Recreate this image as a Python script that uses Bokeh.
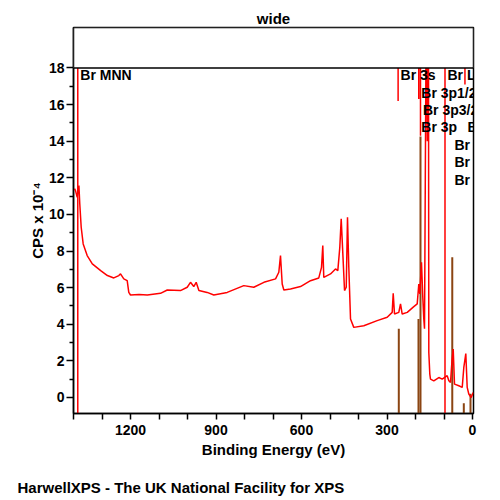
from bokeh.plotting import figure
from bokeh.models import Range1d, FixedTicker, BoxAnnotation, Title
from bokeh.core.properties import value
from bokeh.embed import file_html
from bokeh.resources import INLINE

FONT = "Liberation Sans"

# ---- data ----
spec_be = [1396.5, 1393, 1387, 1381, 1378, 1373, 1366, 1352, 1334, 1304.6, 1281, 1258.6,
           1241, 1235, 1223.5, 1211.6, 1206, 1200, 1170, 1141, 1094.7, 1071, 1024.6, 1001,
           989.5, 978, 969.5, 960, 931, 907.7, 860.7, 802.5, 767.4, 732, 691, 679.6, 673.7,
           667.7, 662, 638.6, 603.5, 568.4, 539.3, 529.8, 525.3, 521.8, 498.2, 480.7, 472.6,
           465.6, 460.7, 456, 449, 443, 438.6, 434, 428, 416.5, 381.4, 334.4, 299.3, 281.8,
           278.2, 273.7, 258.6, 252.6, 246.7, 229, 206, 194, 188.4, 185, 179, 174.4, 170.9,
           168.4, 165.6, 163, 160.4, 158.6, 156.8, 154.4, 153.3, 149.8, 147.4, 135.8, 118.2,
           106.3, 88.8, 83, 77.2, 72, 67.7, 63.2, 48, 36.1, 30.5, 23.5, 18.6, 13, 4.6, -2.5]
spec_cps = [11.41, 11.3, 10.94, 11.58, 10.58, 9.3, 8.39, 7.75, 7.3, 6.93, 6.66, 6.53,
            6.66, 6.75, 6.48, 6.38, 5.74, 5.6, 5.62, 5.6, 5.69, 5.87, 5.84, 6.02,
            6.29, 6.06, 6.29, 5.84, 5.74, 5.6, 5.74, 6.11, 6.02, 6.29, 6.48, 6.84, 7.75,
            6.2, 5.87, 5.93, 6.06, 6.38, 6.53, 7.11, 8.3, 6.56, 6.75, 7.02, 6.93,
            8.2, 9.76, 8.2, 5.84, 6.02, 9.85, 7.11, 4.29, 3.83, 3.92, 4.2, 4.38, 4.65,
            5.69, 4.56, 4.65, 5.11, 4.56, 4.65, 4.96, 5.11, 6.2, 5.66, 7.39, 5.47, 4.29,
            3.76, 12.0, 19.5, 19.5, 14.0, 19.5, 19.5, 2.46, 1.28, 1.0, 0.91, 1.09,
            1.0, 1.19, 0.91, 0.82, 2.0, 2.65, 0.73, 0.64, 0.55, 1.64, 2.4, 0.55, 0.19, 0.0, 0.27]

marker_names = ["Br MNN", "Br 3s", "Br LMM", "Br 3p1/2", "Br 3p3/2", "Br 3p",
                "Br 4s", "Br 3d", "Br 3d3/2", "Br 3d5/2"]
marker_be = [1385, 261, 96.5, 188.5, 182.5, 188.5, 26.5, 72, 72, 72]
marker_end = [-0.9, 16.2, -0.9, 16.3, 14.3, 16.3, 17.1, 18, 18, 18]
marker_row = [0, 0, 0, 1, 2, 3, 3, 4, 5, 6]

stick_be = [258.6, 189.5, 182.5, 71, 30.5, 7]
stick_top = [3.76, 4.29, 14.26, 7.66, -0.31, 0.2]

x_major = [0, 300, 600, 900, 1200]
x_minor = [100, 200, 400, 500, 700, 800, 1000, 1100, 1300, 1400]
y_major = [0, 2, 4, 6, 8, 10, 12, 14, 16, 18]
y_minor = [1, 3, 5, 7, 9, 11, 13, 15, 17]

XMIN, XMAX = 1400, -3.5
YMIN, YMAX = -0.875, 20.21
YTOP = 18

RED = "#ff0000"
BROWN = "#8B4513"

p = figure(width=495, height=500, output_backend="svg", toolbar_location=None,
           x_range=Range1d(XMIN, XMAX), y_range=Range1d(YMIN, YMAX),
           min_border_left=73, min_border_right=22, min_border_top=27, min_border_bottom=87)
p.title.text = "wide"
p.title.align = "center"
p.title.text_font = FONT
p.title.text_font_style = "bold"
p.title.text_font_size = "15px"
p.title.text_color = "black"
p.title.standoff = 2

p.xgrid.visible = False
p.ygrid.visible = False
p.outline_line_color = "black"
p.outline_line_width = 1.5
p.outline_line_alpha = 1

for ax in (p.xaxis[0], p.yaxis[0]):
    ax.axis_line_width = 1.5
    ax.major_tick_line_width = 1.5
    ax.minor_tick_line_width = 1.5
    ax.major_tick_in = 0
    ax.minor_tick_in = 0
    ax.major_label_text_font = FONT
    ax.major_label_text_font_style = "bold"
    ax.major_label_text_font_size = "14px"
    ax.major_label_text_color = "black"
    ax.axis_label_text_font = FONT
    ax.axis_label_text_font_style = "bold"
    ax.axis_label_text_font_size = "15px"
    ax.axis_label_text_color = "black"

p.xaxis.ticker = FixedTicker(ticks=x_major, minor_ticks=x_minor)
p.xaxis.major_tick_out = 6
p.xaxis.minor_tick_out = 6
p.xaxis.major_label_standoff = 5
p.xaxis.axis_label = "Binding Energy (eV)"
p.xaxis.axis_label_standoff = 3

p.yaxis.ticker = FixedTicker(ticks=y_major, minor_ticks=y_minor)
p.yaxis.major_tick_out = 7
p.yaxis.minor_tick_out = 4
p.yaxis.major_label_standoff = 2
p.yaxis.axis_label = "CPS x 10\u207b\u2074"
p.yaxis.axis_label_standoff = 0

# spacer between the axis label and the footer
p.add_layout(Title(text=" ", standoff=0, text_font=FONT, text_font_size="12px"), "below")
p.add_layout(Title(text="HarwellXPS - The UK National Facility for XPS", align="left",
                   offset=-56, standoff=0, text_font=FONT, text_font_style="bold",
                   text_font_size="15px", text_color="black"), "below")

# sticks
p.segment(x0=stick_be, y0=[YMIN - 0.1] * len(stick_be), x1=stick_be, y1=stick_top,
          line_color=BROWN, line_width=2)
# spectrum
p.line(spec_be, spec_cps, line_color=RED, line_width=1.5)
# element markers
p.segment(x0=marker_be, y0=[YTOP] * len(marker_be), x1=marker_be, y1=marker_end,
          line_color=RED, line_width=1.5)
label_y = [17.6 - 0.95 * r for r in marker_row]
p.text(x=marker_be, y=label_y, text=marker_names, x_offset=2.5,
       text_font=value(FONT), text_font_style="bold", text_font_size=value("14px"),
       text_align="left", text_baseline="middle", text_color="black")

# annotation box above 18
p.add_layout(BoxAnnotation(bottom=YTOP, fill_color="white", fill_alpha=1.0,
                           line_color="black", line_width=1.5, line_alpha=1.0))

open("out.html", "w").write(file_html(p, INLINE))
